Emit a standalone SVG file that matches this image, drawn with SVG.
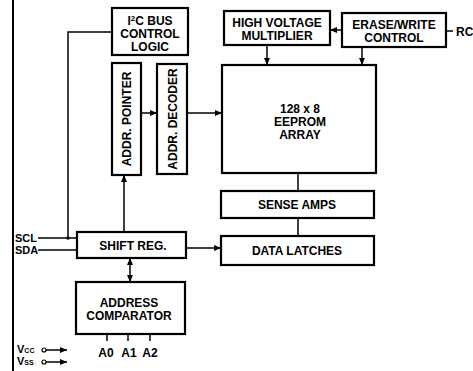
<svg xmlns="http://www.w3.org/2000/svg" width="473" height="371" viewBox="0 0 473 371">
<style>
.box{fill:#fff;stroke:#000;stroke-width:2.2}
.ln{fill:none;stroke:#000;stroke-width:1.5}
.t{font-family:"Liberation Sans",Arial,sans-serif;font-weight:bold;font-size:12px;text-anchor:middle;fill:#000}
.s{font-family:"Liberation Sans",Arial,sans-serif;font-weight:bold;font-size:11px;fill:#000}
</style>
<defs>
<marker id="ah" markerWidth="7" markerHeight="6" refX="7" refY="3" orient="auto" markerUnits="userSpaceOnUse">
<path d="M0,0 L7,3 L0,6 Z" fill="#000"/>
</marker>
<marker id="as" markerWidth="7" markerHeight="6" refX="0" refY="3" orient="auto" markerUnits="userSpaceOnUse">
<path d="M7,0 L0,3 L7,6 Z" fill="#000"/>
</marker>
</defs>
<rect width="473" height="371" fill="#fff"/>
<line x1="13" y1="0" x2="13" y2="371" stroke="#000" stroke-width="2"/>

<g id="connectors">
<polyline class="ln" points="112,32 68,32 68,238"/>
<circle cx="68" cy="238" r="1.8" fill="#000"/>
<line class="ln" x1="38" y1="238" x2="77" y2="238"/>
<line class="ln" x1="38" y1="250" x2="77" y2="250"/>
<line class="ln" x1="141" y1="113" x2="157" y2="113" marker-end="url(#ah)"/>
<line class="ln" x1="187" y1="113" x2="222" y2="113" marker-end="url(#ah)"/>
<line class="ln" x1="342" y1="30" x2="330" y2="30" marker-end="url(#ah)"/>
<line class="ln" x1="446" y1="31" x2="453" y2="31"/>
<line class="ln" x1="267" y1="45" x2="267" y2="65" marker-end="url(#ah)"/>
<line class="ln" x1="362" y1="47" x2="362" y2="65" marker-end="url(#ah)"/>
<line class="ln" x1="298" y1="173" x2="298" y2="191"/>
<line class="ln" x1="298" y1="218" x2="298" y2="236"/>
<line class="ln" x1="186" y1="248" x2="221" y2="248" marker-end="url(#ah)"/>
<line class="ln" x1="124" y1="232" x2="124" y2="175" marker-end="url(#ah)"/>
<line class="ln" x1="130" y1="258" x2="130" y2="282" marker-start="url(#as)" marker-end="url(#ah)"/>
<line class="ln" x1="107" y1="334" x2="107" y2="341"/>
<line class="ln" x1="128" y1="334" x2="128" y2="341"/>
<line class="ln" x1="150" y1="334" x2="150" y2="341"/>
<circle cx="44" cy="350" r="2" fill="#fff" stroke="#000" stroke-width="1.2"/>
<line class="ln" x1="46" y1="350" x2="67" y2="350" marker-end="url(#ah)"/>
<circle cx="44" cy="362" r="2" fill="#fff" stroke="#000" stroke-width="1.2"/>
<line class="ln" x1="46" y1="362" x2="67" y2="362" marker-end="url(#ah)"/>
</g>

<g id="i2c">
<rect class="box" x="112" y="8" width="76" height="47"/>
<text class="t" x="150" y="25">I<tspan font-size="8" dy="-4">2</tspan><tspan dy="4">C BUS</tspan></text>
<text class="t" x="150" y="38">CONTROL</text>
<text class="t" x="150" y="51">LOGIC</text>
</g>
<g id="hv">
<rect class="box" x="224" y="11" width="106" height="34"/>
<text class="t" x="277" y="27">HIGH VOLTAGE</text>
<text class="t" x="277" y="40">MULTIPLIER</text>
</g>
<g id="ew">
<rect class="box" x="342" y="13" width="104" height="34"/>
<text class="t" x="394" y="29">ERASE/WRITE</text>
<text class="t" x="394" y="42">CONTROL</text>
</g>
<text class="t" x="456" y="36" style="text-anchor:start">RC</text>
<g id="ptr">
<rect class="box" x="112" y="63" width="29" height="112"/>
<text class="t" transform="translate(131,119) rotate(-90)">ADDR. POINTER</text>
</g>
<g id="dec">
<rect class="box" x="157" y="64" width="30" height="110"/>
<text class="t" transform="translate(176.5,119) rotate(-90)">ADDR. DECODER</text>
</g>
<g id="eeprom">
<rect class="box" x="222" y="65" width="154" height="108"/>
<text class="t" x="300" y="113">128 x 8</text>
<text class="t" x="300" y="126">EEPROM</text>
<text class="t" x="300" y="139">ARRAY</text>
</g>
<g id="sense">
<rect class="box" x="221" y="191" width="153" height="27"/>
<text class="t" x="297" y="209">SENSE AMPS</text>
</g>
<g id="latch">
<rect class="box" x="221" y="236" width="153" height="29"/>
<text class="t" x="297" y="255">DATA LATCHES</text>
</g>
<g id="shift">
<rect class="box" x="77" y="232" width="109" height="26"/>
<text class="t" x="133" y="250">SHIFT REG.</text>
</g>
<g id="comp">
<rect class="box" x="76" y="282" width="109" height="52"/>
<text class="t" x="129" y="307">ADDRESS</text>
<text class="t" x="129" y="320">COMPARATOR</text>
</g>
<g id="pins">
<text class="s" x="15" y="242">SCL</text>
<text class="s" x="15" y="254">SDA</text>
<text class="t" x="106" y="357">A0</text>
<text class="t" x="129" y="357">A1</text>
<text class="t" x="150" y="357">A2</text>
<text class="s" x="17" y="353">V<tspan font-size="7">CC</tspan></text>
<text class="s" x="17" y="365">V<tspan font-size="7">SS</tspan></text>
</g>
</svg>
